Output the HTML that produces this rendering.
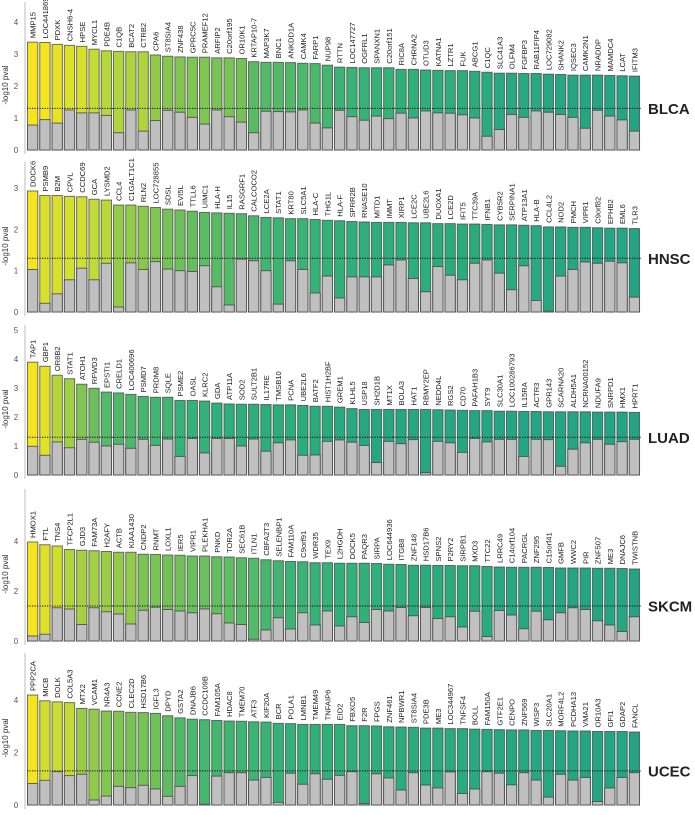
<!DOCTYPE html>
<html><head><meta charset="utf-8"><style>
html,body{margin:0;padding:0;background:#fff;}
svg{display:block;font-family:"Liberation Sans",Arial,sans-serif;}
</style></head><body>
<svg id="chart" width="695" height="815" viewBox="0 0 695 815"></svg>
<script>
const blcaGenes=["MMP15","LOC441869","PDXK","CNSH6-4","HPSE","MYCL1","PDE4B","C1QB","BCAT2","CTRB2","CPA6","ST8SIA4","ZNF438","GPRC5C","PRAMEF12","ARFIP2","C20orf195","OR10K1","KRTAP10-7","MAP3K7","BNC1","ANKDD1A","CAMK4","FARP1","NUP98","RTTN","LOC147727","OGFRL1","SPANXN1","C20orf151","RIC8A","CHRNA2","OTUD3","KATNA1","LZTR1","FUK","ABCG1","C1QC","SLC41A3","OLFM4","FGFBP3","RAB11FIP4","LOC729082","SHANK2","IQSEC3","CAMK2N1","NRADDP","MAMDC4","LCAT","IFITM3"];
const blcaValues=[3.37,3.36,3.30,3.27,3.24,3.15,3.10,3.08,3.07,3.07,2.97,2.93,2.91,2.90,2.90,2.88,2.88,2.86,2.76,2.74,2.74,2.73,2.71,2.70,2.65,2.59,2.58,2.57,2.57,2.57,2.52,2.52,2.50,2.49,2.48,2.48,2.46,2.43,2.40,2.40,2.39,2.39,2.37,2.36,2.34,2.34,2.34,2.33,2.32,2.31];
const blcaNull=[0.78,0.95,0.84,1.25,1.16,1.16,1.08,0.54,1.25,0.59,0.92,1.24,1.18,1.02,0.81,1.25,1.04,0.87,0.54,1.21,1.20,1.19,1.25,0.84,0.69,1.24,1.04,0.93,1.06,0.98,1.15,1.00,1.22,1.16,1.15,1.10,1.00,0.43,0.64,1.11,1.02,1.22,1.18,1.11,1.02,0.68,1.24,1.06,0.94,0.59];

const hnscGenes=["DOCK6","PSMB9","B2M","CPVL","CCDC69","GCA","LYSMD2","CCL4","C1GALT1C1","RLN2","LOC728855","SDSL","EVI5L","TTLL6","UIMC1","HLA-H","IL15","RASGRF1","CALCOCO2","LCE2A","STAT1","KRT80","SLC5A1","HLA-C","THG1L","HLA-F","SPRR2B","RNASE10","MITD1","IMMT","XIRP1","LCE2C","UBE2L6","DUOXA1","LCE2D","IFIT5","TTC39A","IFNB1","CYB5R2","SERPINA1","ATP13A1","HLA-B","CCL4L2","NOD2","PMCH","VIPR1","C9orf82","EPHB2","EML6","TLR3"];
const hnscValues=[2.93,2.82,2.82,2.80,2.79,2.73,2.71,2.59,2.59,2.56,2.53,2.49,2.47,2.44,2.41,2.40,2.39,2.38,2.33,2.29,2.28,2.26,2.26,2.24,2.22,2.21,2.19,2.18,2.17,2.17,2.17,2.16,2.16,2.14,2.14,2.13,2.13,2.12,2.11,2.11,2.10,2.09,2.06,2.06,2.05,2.05,2.04,2.03,2.03,2.02];
const hnscNull=[1.03,0.21,0.44,0.78,1.06,0.78,1.18,0.12,1.19,1.03,1.22,1.04,1.00,0.98,1.12,0.61,0.17,1.28,1.24,1.00,0.19,1.24,1.03,0.46,0.87,0.34,0.85,0.85,0.85,1.14,1.26,0.81,0.49,1.10,0.89,0.78,1.18,1.26,0.94,0.54,1.12,0.28,0.02,0.87,1.03,1.21,1.18,1.23,1.19,0.36];

const luadGenes=["TAP1","GBP1","OR8B2","STAT1","ATOH1","RFWD3","EPSTI1","CRELD1","LOC400696","PSMD7","PRDM8","SQLE","PSME2","OASL","KLRC2","GDA","ATP11A","SOD2","SULT2B1","IL17RE","TMSB10","PCNA","UBE2L6","BATF2","HIST1H2BF","GREM1","KLHL5","USP18","SH2D1B","MT1X","BOLA3","HAT1","RBMY2EP","NEDD4L","RGS2","CD70","PAFAH1B3","SYT9","SLC30A1","LOC100286793","IL15RA","ACTR3","GPR143","SCARNA20","ALDH5A1","NCRNA00152","NDUFA9","SNRPD1","HMX1","HPRT1"];
const luadValues=[3.89,3.75,3.44,3.32,3.13,2.99,2.86,2.83,2.78,2.71,2.68,2.68,2.57,2.57,2.55,2.48,2.45,2.44,2.44,2.43,2.42,2.42,2.40,2.37,2.37,2.34,2.29,2.26,2.26,2.26,2.26,2.26,2.26,2.25,2.24,2.23,2.22,2.22,2.20,2.20,2.19,2.19,2.18,2.18,2.18,2.18,2.17,2.17,2.17,2.16];
const luadNull=[0.99,0.68,1.14,0.94,1.23,1.13,1.00,1.06,0.92,1.23,1.02,1.24,0.64,1.26,0.76,1.26,1.26,1.00,1.24,0.82,1.11,1.21,0.68,0.69,1.16,1.21,1.13,1.02,0.43,1.16,1.08,1.22,0.08,1.16,1.11,0.78,1.26,1.14,1.23,1.23,0.64,1.23,1.22,0.30,0.89,1.11,1.23,1.06,1.15,1.23];

const skcmGenes=["HMOX1","FTL","TNS4","TFCP2L1","GJD3","FAM73A","H2AFY","ACTB","KIAA1430","CNDP2","RNMT","LOXL1","IER5","VIPR1","PLEKHA1","PNKD","TOR2A","SEC61B","ITLN1","CBFA2T3","SELENBP1","FAM110A","C9orf91","WDR35","TEX9","L2HGDH","DOCK5","PAQR3","SIRPA","LOC644936","ITGB8","ZNF148","HSD17B6","SPNS2","P2RY2","SIRPB1","MXD3","TTC22","LRRC49","C14orf104","PACRGL","ZNF295","C15orf41","GMFB","WWC2","PIR","ZNF507","ME3","DNAJC6","TWISTNB"];
const skcmValues=[3.96,3.85,3.80,3.66,3.63,3.61,3.58,3.55,3.55,3.47,3.46,3.44,3.43,3.40,3.40,3.37,3.36,3.33,3.31,3.25,3.21,3.18,3.17,3.13,3.13,3.11,3.11,3.11,3.10,3.07,3.06,3.03,3.03,3.02,3.02,3.01,3.01,2.98,2.96,2.95,2.95,2.95,2.94,2.92,2.92,2.92,2.91,2.91,2.90,2.88];
const skcmNull=[0.20,0.27,1.33,1.28,0.66,1.33,1.17,1.08,0.68,1.23,1.35,1.26,1.20,1.13,1.28,1.09,0.72,0.66,0.07,0.44,0.93,0.48,1.13,0.64,1.20,0.60,0.97,0.74,1.26,1.20,1.34,1.01,1.34,0.90,0.97,0.56,1.19,0.18,1.22,1.04,0.49,1.19,0.85,1.13,1.33,1.26,0.81,0.64,0.38,0.97];

const ucecGenes=["PPP2CA","MICB","DOLK","COL5A3","MTX2","VCAM1","NR4A3","CCNE2","CLEC2D","HSD17B6","IGFL3","DPYD","GSTA2","DNAJB6","CCDC109B","FAM105A","HDAC8","TMEM70","ATF3","KIF20A","BCR","POLA1","LMNB1","TMEM49","TNFAIP6","EID2","FBXO5","F2R","FPGS","ZNF461","NPBWR1","ST8SIA4","PDE3B","ME3","LOC344967","TNFSF4","BOLL","FAM150A","GTF2E1","CENPO","ZNF569","WISP3","SLC20A1","MORF4L2","PCDHA13","VMA21","OR10A3","GFI1","GDAP2","FANCL"];
const ucecValues=[4.19,3.97,3.93,3.90,3.68,3.65,3.58,3.57,3.53,3.52,3.49,3.40,3.32,3.27,3.25,3.22,3.20,3.19,3.17,3.16,3.11,3.10,3.07,3.07,3.07,3.07,3.02,3.02,3.01,2.98,2.97,2.96,2.93,2.93,2.91,2.91,2.89,2.88,2.87,2.86,2.86,2.84,2.84,2.83,2.82,2.82,2.80,2.80,2.80,2.78];
const ucecNull=[0.82,0.94,1.27,1.12,1.17,0.19,0.34,0.71,0.66,0.75,0.61,0.33,0.71,1.12,0.03,1.10,1.23,1.23,0.95,1.05,0.10,1.21,0.79,1.19,0.98,1.13,1.27,0.05,1.19,1.03,0.57,1.23,0.76,0.65,1.26,0.44,0.61,1.27,1.21,0.77,1.23,0.95,0.30,1.17,0.95,1.05,0.13,0.65,1.05,1.23];

const panelNames=["BLCA","HNSC","LUAD","SKCM","UCEC"];
const panelTicks=[[0,1,2,3,4],[0,1,2,3],[0,1,2,3,4,5],[0,2,4],[0,2,4]];
const panelThreshold=[1.3,1.3,1.3,1.4,1.3];

const NS="http://www.w3.org/2000/svg";
const svg=document.getElementById("chart");
const layout=[
 {top:0,zero:150,unit:32,genes:blcaGenes,vals:blcaValues,nulls:blcaNull},
 {top:160,zero:312,unit:41.3,genes:hnscGenes,vals:hnscValues,nulls:hnscNull},
 {top:323,zero:475,unit:29,genes:luadGenes,vals:luadValues,nulls:luadNull},
 {top:487,zero:641,unit:25,genes:skcmGenes,vals:skcmValues,nulls:skcmNull},
 {top:651,zero:805,unit:26.25,genes:ucecGenes,vals:ucecValues,nulls:ucecNull}
];
const stops=[[0,[246,229,30]],[0.2,[198,220,52]],[0.4,[140,200,76]],[0.6,[82,186,104]],[0.8,[47,176,122]],[1,[35,164,132]]];
function col(t){t=Math.max(0,Math.min(1,t));for(let i=1;i<stops.length;i++){if(t<=stops[i][0]){const a=stops[i-1],b=stops[i];const f=(t-a[0])/(b[0]-a[0]);const c=a[1].map((v,k)=>Math.round(v+(b[1][k]-v)*f));return `rgb(${c[0]},${c[1]},${c[2]})`;}}return "rgb(35,164,132)";}
function mk(tag,attrs,parent){const e=document.createElementNS(NS,tag);for(const k in attrs)e.setAttribute(k,attrs[k]);(parent||svg).appendChild(e);return e;}
const X0=27.5,PITCH=12.28,BW=10.3;
function xPos(i){return X0+i*PITCH;}

layout.forEach((p,pi)=>{
  const yPos=v=>p.zero-v*p.unit;
  const g=mk("g",{});
  
  
  const ax=mk("line",{x1:25,x2:25,y1:p.top+2,y2:p.zero+4,stroke:"#c8c8c8","stroke-width":1.2},g);
  
  
  panelTicks[pi].forEach(t=>{
    const tx=mk("text",{x:16,y:yPos(t)+3,"font-size":8,fill:"#555","text-anchor":"middle"},g);
    tx.textContent=t;
    
    
  });
  const cy=(p.top+p.zero)/2+10;
  const yt=mk("text",{x:8,y:cy,"font-size":8,fill:"#333","text-anchor":"middle",transform:`rotate(-90 8 ${cy})`},g);
  yt.textContent="-log10 pval";
  
  
  const vmax=Math.max(...p.vals),vmin=Math.min(...p.vals);
  p.vals.forEach((v,i)=>{
    const x=xPos(i);
    const r=mk("rect",{x:x,y:yPos(v),width:BW,height:v*p.unit,fill:col((vmax-v)/(vmax-vmin)),stroke:"#444","stroke-opacity":0.75,"stroke-width":1},g);
    
    
    const n=p.nulls[i];
    const r2=mk("rect",{x:x,y:yPos(n),width:BW,height:n*p.unit,fill:"#c0c0c0",stroke:"#444","stroke-opacity":0.8,"stroke-width":1},g);
    
    
    const lx=x+BW/2+3, ly=yPos(v)-4;
    const t=mk("text",{x:lx,y:ly,"font-size":7.6,fill:"#222",transform:`rotate(-90 ${lx} ${ly})`},g);
    t.textContent=p.genes[i];
    
    
  });
  const ty=yPos(panelThreshold[pi]);
  const dl=mk("line",{x1:27,x2:642,y1:ty,y2:ty,stroke:"#111","stroke-width":1,"stroke-dasharray":"1.2,1.3"},g);
  
  
  const pt=mk("text",{x:648,y:ty+5.5,"font-size":15,"font-weight":"bold",fill:"#222"},g);
  pt.textContent=panelNames[pi];
  
  
});
</script>
</body></html>
